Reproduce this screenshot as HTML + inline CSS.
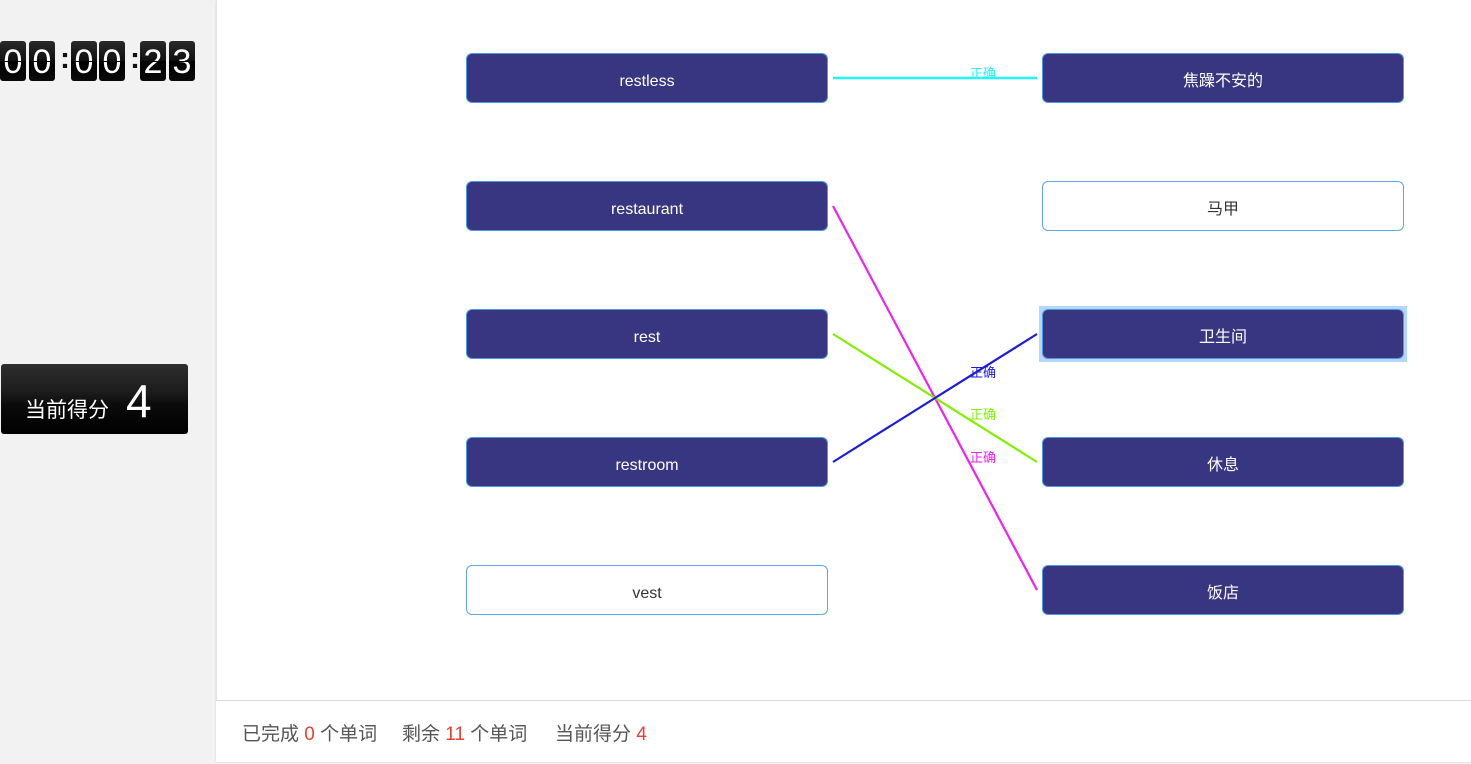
<!DOCTYPE html>
<html><head><meta charset="utf-8">
<style>
html,body{margin:0;padding:0;width:1471px;height:764px;overflow:hidden;background:#f2f2f2;font-family:"Liberation Sans","Noto Sans CJK SC",sans-serif;}
.panel{position:absolute;left:216px;top:0;width:1260px;height:761px;background:#fff;border-left:1px solid #e3e3e3;box-shadow:0 1px 2px rgba(0,0,0,0.12);}
.footer{position:absolute;left:216px;top:700px;width:1260px;height:61px;border-top:1px solid #d9d9d9;background:#fff;}
.footer span.t{position:absolute;top:18px;font-size:19px;color:#555;white-space:pre;}
.footer b{font-weight:normal;color:#e8412f;}
.box{position:absolute;width:360px;height:48px;border:1px solid #4a9be6;border-radius:6px;background:#383680;color:#fff;font-size:16px;line-height:55px;text-align:center;box-sizing:content-box;}
.box.w{background:#fff;color:#333;border-color:#5ea6ec;}
.hl{position:absolute;left:1039px;top:306px;width:368px;height:56px;background:#b5d6fb;}
.dig{position:absolute;top:41px;width:26px;height:40px;border-radius:3px;background:linear-gradient(#2a2a2a 0%,#111 49%,#000 51%,#0a0a0a 100%);color:#fff;font-size:34px;line-height:42px;text-align:center;font-family:"Liberation Sans",sans-serif;}
.dig:after{content:"";position:absolute;left:0;right:0;top:20px;height:1px;background:#000;}
.col{position:absolute;top:41px;width:8px;height:40px;color:#111;font-size:30px;line-height:36px;text-align:center;font-weight:bold;}
.score{position:absolute;left:1px;top:364px;width:187px;height:70px;border-radius:3px;background:linear-gradient(#2e2e2e 0%,#1c1c1c 40%,#0a0a0a 60%,#000 100%);color:#fff;}
.score .a{position:absolute;left:24px;top:35px;font-size:21px;line-height:24px;}
.score .n{position:absolute;left:125px;top:12px;font-size:46px;line-height:50px;font-family:"Liberation Sans",sans-serif;}
svg{position:absolute;left:0;top:0;}
</style></head><body>
<div class="panel"></div>
<div class="footer">
<span class="t" style="left:26px">已完成 <b>0</b> 个单词</span>
<span class="t" style="left:186px">剩余 <b>11</b> 个单词</span>
<span class="t" style="left:339px">当前得分 <b>4</b></span>
</div>

<div class="dig" style="left:0px">0</div>
<div class="dig" style="left:29px">0</div>
<div class="col" style="left:60px">:</div>
<div class="dig" style="left:71px">0</div>
<div class="dig" style="left:99px">0</div>
<div class="col" style="left:130px">:</div>
<div class="dig" style="left:140px">2</div>
<div class="dig" style="left:169px">3</div>

<div class="score"><span class="a">当前得分</span><span class="n">4</span></div>

<div class="hl"></div>

<div class="box" style="left:466px;top:53px">restless</div>
<div class="box" style="left:466px;top:181px">restaurant</div>
<div class="box" style="left:466px;top:309px">rest</div>
<div class="box" style="left:466px;top:437px">restroom</div>
<div class="box w" style="left:466px;top:565px">vest</div>

<div class="box" style="left:1042px;top:53px">焦躁不安的</div>
<div class="box w" style="left:1042px;top:181px">马甲</div>
<div class="box" style="left:1042px;top:309px">卫生间</div>
<div class="box" style="left:1042px;top:437px">休息</div>
<div class="box" style="left:1042px;top:565px">饭店</div>

<svg width="1471" height="764" xmlns="http://www.w3.org/2000/svg" style="font-family:'Liberation Sans','Noto Sans CJK SC',sans-serif">
<line x1="833" y1="78" x2="1037" y2="78" stroke="#22f5f5" stroke-width="2.5"/>
<line x1="833" y1="206" x2="1037" y2="590" stroke="#ee22ee" stroke-width="2.2"/>
<line x1="833" y1="334" x2="1037" y2="462" stroke="#80f000" stroke-width="2.2"/>
<line x1="833" y1="462" x2="1037" y2="334" stroke="#1a1ae0" stroke-width="2.2"/>
<text x="983" y="78" font-size="13" fill="#22f5f5" text-anchor="middle">正确</text>
<text x="983" y="377" font-size="13" fill="#1a1ae0" text-anchor="middle">正确</text>
<text x="983" y="419" font-size="13" fill="#80f000" text-anchor="middle">正确</text>
<text x="983" y="462" font-size="13" fill="#ee22ee" text-anchor="middle">正确</text>
</svg>
</body></html>
